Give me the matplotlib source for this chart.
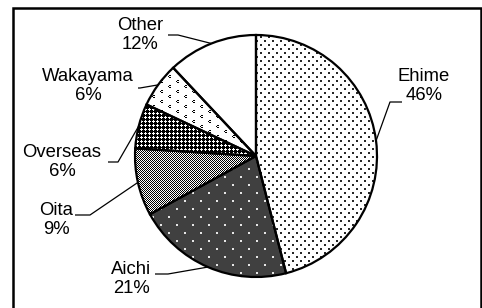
import numpy as np
import matplotlib
matplotlib.use("Agg")
import matplotlib.pyplot as plt
from matplotlib.patches import Rectangle

plt.rcParams['font.family'] = ['Liberation Sans', 'DejaVu Sans']

# data
regions = ["Ehime", "Aichi", "Oita", "Overseas", "Wakayama", "Other"]
shares = [46, 21, 9, 6, 6, 12]

# label layout, pixel coords from top-left: text centre, leader start, leader elbow
label_xy = [(424, 86), (131, 279), (56, 220), (62, 162), (88, 86), (140, 35)]
leader_start = [(402, 102), (155, 274), (75, 215), (108, 162), (138, 88), (168, 35)]
leader_elbow = [(390, 102), (168, 274), (90, 215), (118, 162), (140, 88), (178, 35)]

W, H = 482, 308
CENTER = (256, 156)
RADIUS = 121
FONT_SIZE = 13.3


def tile(t):
    t = np.asarray(t, dtype=float)
    reps = (H // t.shape[0] + 1, W // t.shape[1] + 1)
    return np.tile(t, reps)[:H, :W]


def dots_tile(h, w, spots, size, bg, fg):
    t = np.full((h, w), bg, dtype=float)
    for r, c in spots:
        t[r:r + size, c:c + size] = fg
    return t


# little "c" marks for Wakayama
wak = np.ones((10, 16))
for (r, c) in [(0, 0), (5, 8)]:
    wak[r, c + 1:c + 3] = 0
    wak[r + 1, c] = 0
    wak[r + 2, c + 1:c + 3] = 0

# bitmap fills, one per wedge (gray levels 0..1)
fills = [
    tile(dots_tile(8, 8, [(0, 0), (4, 4)], 2, 1.0, 0.15)),
    tile(dots_tile(16, 16, [(0, 0), (8, 8)], 2, 0.25, 0.9)),
    tile([[0, 1], [1, 0]]),
    tile([[0, 1, 0, 0], [1, 1, 1, 0], [0, 1, 0, 0], [0, 0, 0, 0]]),
    tile(wak),
    np.ones((H, W)),
]

fig = plt.figure(figsize=(W / 100, H / 100), dpi=100)
ax = fig.add_axes([0, 0, 1, 1])
ax.patch.set_visible(False)

wedges, _ = ax.pie(shares, startangle=90, counterclock=False,
                   center=(CENTER[0], H - CENTER[1]), radius=RADIUS,
                   wedgeprops=dict(facecolor='none', edgecolor='black',
                                   linewidth=1.6, zorder=3))
ax.set_xlim(0, W)
ax.set_ylim(0, H)
ax.set_aspect('auto')
ax.axis('off')

# pixel-exact pattern fills, clipped to each wedge
for w, f in zip(wedges, fills):
    im = fig.figimage(f, cmap='gray', vmin=0, vmax=1, origin='upper', zorder=-1)
    im.set_clip_path(w)

for w, name, pct, (tx, ty), (sx, sy), (ex, ey) in zip(
        wedges, regions, shares, label_xy, leader_start, leader_elbow):
    mid = np.deg2rad((w.theta1 + w.theta2) / 2)
    px = CENTER[0] + RADIUS * np.cos(mid)
    py = (H - CENTER[1]) + RADIUS * np.sin(mid)
    ax.plot([sx, ex, px], [H - sy, H - ey, py], color='black', lw=0.9,
            zorder=4, solid_capstyle='butt')
    ax.text(tx, H - ty, f"{name}\n{pct}%", ha='center', va='center',
            multialignment='center', fontsize=FONT_SIZE, zorder=5)

# chart border
ax.add_patch(Rectangle((13, H - 310), 467.5, 302, fill=False, edgecolor='black',
                       linewidth=1.8, clip_on=False, zorder=6))

fig.savefig("out.png", dpi=100)
